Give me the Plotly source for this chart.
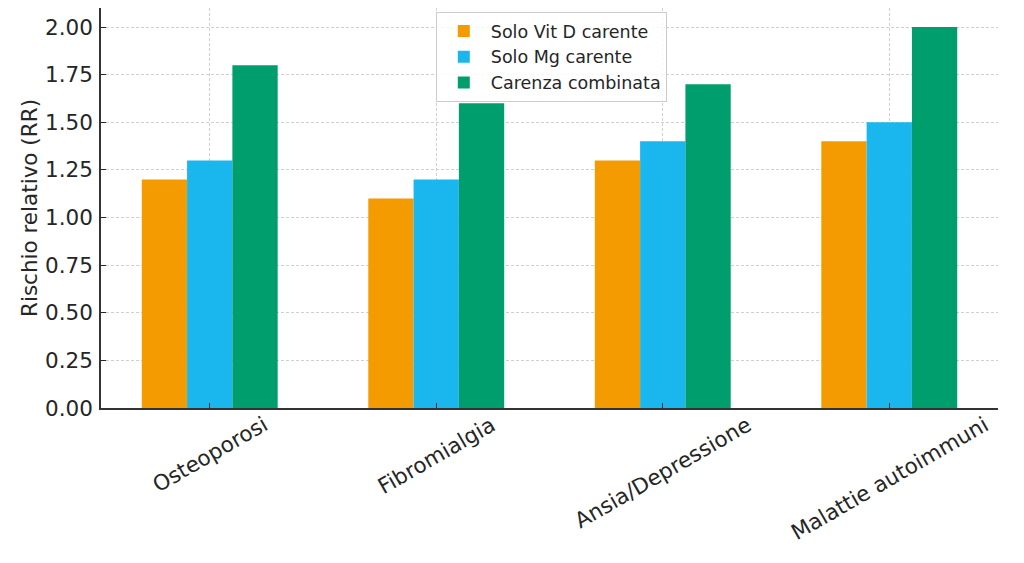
import plotly.graph_objects as go

# categories and relative risk per deficiency group
categories = ['Osteoporosi', 'Fibromialgia', 'Ansia/Depressione', 'Malattie autoimmuni']
vit_d_only = [1.2, 1.1, 1.3, 1.4]
mg_only = [1.3, 1.2, 1.4, 1.5]
combined = [1.8, 1.6, 1.7, 2.0]
y_ticks = [0, 0.25, 0.5, 0.75, 1.0, 1.25, 1.5, 1.75, 2.0]

FONT = 'DejaVu Sans'
TEXT_COLOR = '#262626'
GRID_COLOR = '#cfcfcf'

fig = go.Figure()
fig.add_trace(go.Bar(x=categories, y=vit_d_only, name='Solo Vit D carente',
                     marker=dict(color='#F39B00', line=dict(width=0))))
fig.add_trace(go.Bar(x=categories, y=mg_only, name='Solo Mg carente',
                     marker=dict(color='#1AB7EE', line=dict(width=0))))
fig.add_trace(go.Bar(x=categories, y=combined, name='Carenza combinata',
                     marker=dict(color='#009E6D', line=dict(width=0))))

# rotated category labels, centred under each group
for cat in categories:
    fig.add_annotation(
        x=cat, xref='x', y=0, yref='paper',
        text=cat, textangle=-30, showarrow=False,
        xanchor='center', yanchor='top', yshift=-1,
        font=dict(family=FONT, size=21.5, color=TEXT_COLOR),
    )

# page body has an 8px margin, so the figure is a bit smaller than the window
fig.update_layout(
    width=1016,
    height=555,
    autosize=False,
    margin=dict(l=93, r=26, t=0, b=155, pad=0),
    paper_bgcolor='white',
    plot_bgcolor='white',
    font=dict(family=FONT, size=21.5, color=TEXT_COLOR),
    barmode='group',
    bargap=0.4,
    bargroupgap=0,
    showlegend=True,
    legend=dict(
        x=0.502, xanchor='center', y=0.99, yanchor='top',
        bgcolor='rgba(255,255,255,0.85)', bordercolor='#cccccc', borderwidth=1,
        font=dict(family=FONT, size=17.5, color=TEXT_COLOR),
        itemwidth=44,
        tracegroupgap=0,
    ),
    xaxis=dict(
        type='category',
        range=[-0.48, 3.48],
        showticklabels=False,
        ticks='inside', ticklen=5, tickcolor=TEXT_COLOR,
        showline=True, linecolor='#333333', linewidth=1.5,
        showgrid=True, gridcolor=GRID_COLOR, griddash='3px,2px', gridwidth=1,
        zeroline=False,
    ),
    yaxis=dict(
        range=[0, 2.1],
        tickvals=y_ticks,
        tickformat='.2f',
        ticks='inside', ticklen=5, tickcolor=TEXT_COLOR,
        ticklabelstandoff=2,
        tickfont=dict(family=FONT, size=21.5, color=TEXT_COLOR),
        showline=True, linecolor='#333333', linewidth=1.5,
        showgrid=True, gridcolor=GRID_COLOR, griddash='3px,2px', gridwidth=1,
        zeroline=False,
        title=dict(text='Rischio relativo (RR)', standoff=2,
                   font=dict(family=FONT, size=21.5, color=TEXT_COLOR)),
    ),
)

fig.write_html('out.html')
